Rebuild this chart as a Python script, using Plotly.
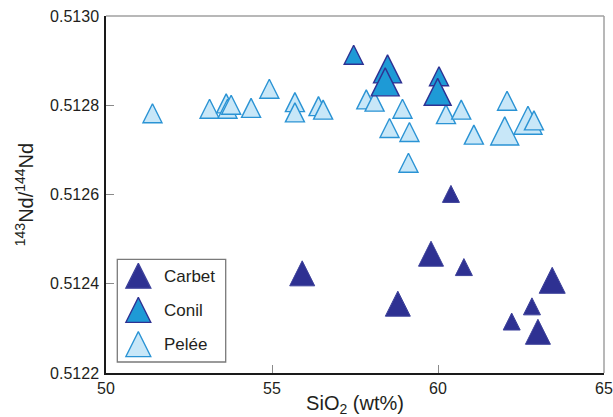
import plotly.graph_objects as go

# ---- data ----
series_names = ["Carbet", "Conil", "Pelée"]

sio2_carbet = [55.91, 59.79, 60.78, 58.79, 63.44, 62.83, 62.22, 63.01, 60.39]
nd_carbet = [0.512414, 0.512458, 0.512431, 0.512346, 0.512398, 0.512343, 0.512309, 0.512283, 0.512595]
size_carbet = [25, 25, 17, 25, 26, 17, 17, 25, 17]

sio2_conil = [57.46, 58.48, 58.41, 60.03, 59.99]
nd_conil = [0.512906, 0.512871, 0.512842, 0.512858, 0.512820]
size_conil = [19, 28, 28, 19, 27]

sio2_pelee = [51.40, 53.12, 53.62, 53.66, 53.77, 54.37, 54.92, 55.69, 55.69, 56.40,
              56.54, 57.84, 58.09, 58.93, 58.54, 59.14, 59.11, 60.24, 60.70, 62.08,
              61.08, 62.01, 62.71, 62.89]
nd_pelee = [0.512775, 0.512785, 0.512797, 0.512785, 0.512794, 0.512787, 0.512830, 0.512800,
            0.512777, 0.512791, 0.512783, 0.512806, 0.512801, 0.512785, 0.512742, 0.512733,
            0.512664, 0.512773, 0.512783, 0.512803, 0.512727, 0.512732, 0.512756, 0.512759]
size_pelee = [19, 19, 19, 19, 19, 19, 19, 19, 19, 19, 19, 19, 19, 19, 19, 19,
              19, 19, 19, 19, 19, 28, 28, 19]

x_ticks = [50, 55, 60, 65]
y_ticks = [0.5122, 0.5124, 0.5126, 0.5128, 0.5130]

# ---- styles ----
styles = {
    "Carbet": dict(fill="#2E3192", line="#3C409A", lw=1.0),
    "Conil": dict(fill="#1E9AD6", line="#2E3192", lw=1.4),
    "Pelée": dict(fill="#C8E7F8", line="#2A93D4", lw=1.4),
}
FONT = "Liberation Sans, Arial, Helvetica, sans-serif"
TXT = "#231F20"

data = {
    "Carbet": (sio2_carbet, nd_carbet, size_carbet),
    "Conil": (sio2_conil, nd_conil, size_conil),
    "Pelée": (sio2_pelee, nd_pelee, size_pelee),
}


def tri_marker(sizes, st):
    # upward triangle with equal width/height, centred on its centroid
    return dict(
        symbol="arrow-down",
        angle=180,
        size=sizes,
        standoff=[s * 2.0 / 3.0 for s in sizes],
        color=st["fill"],
        line=dict(color=st["line"], width=st["lw"]),
        opacity=1,
    )


fig = go.Figure()

# draw Pelée first (bottom), then Conil, then Carbet
for name in ["Pelée", "Conil", "Carbet"]:
    xs, ys, ss = data[name]
    fig.add_trace(go.Scatter(
        x=xs, y=ys, mode="markers", name=name, showlegend=False,
        marker=tri_marker(ss, styles[name]),
        xaxis="x", yaxis="y",
    ))

# ---- hand-built legend in an inset axis ----
n = len(series_names)
leg_size = 25
fig.add_trace(go.Scatter(
    x=[0.194] * n,
    y=[n - i - 0.6 for i in range(n)],
    mode="markers", showlegend=False, hoverinfo="skip",
    marker=dict(
        symbol="arrow-down", angle=180, size=leg_size, standoff=leg_size * 2.0 / 3.0,
        color=[styles[s]["fill"] for s in series_names],
        line=dict(color=[styles[s]["line"] for s in series_names], width=1.3),
    ),
    xaxis="x2", yaxis="y2",
))
for i, s in enumerate(series_names):
    fig.add_annotation(
        x=0.41, y=n - i - 0.5, xref="x2", yref="y2", text=s, showarrow=False,
        xanchor="left", yanchor="middle", font=dict(family=FONT, size=17, color=TXT),
    )

W, H = 613, 417
ML, MR, MT, MB = 106, 9, 16, 44
plot_w = W - ML - MR
plot_h = H - MT - MB
lx0, lx1 = (117.3 - ML) / plot_w, (225.7 - ML) / plot_w
ly0, ly1 = (H - MB - 362) / plot_h, (H - MB - 259.3) / plot_h

fig.add_shape(type="rect", xref="paper", yref="paper", x0=lx0, x1=lx1, y0=ly0, y1=ly1,
              line=dict(color="#7A7A7A", width=1.3), fillcolor="rgba(0,0,0,0)", layer="above")
# gray frame on top and right
fig.add_shape(type="line", xref="paper", yref="paper", x0=0, x1=1, y0=1, y1=1,
              line=dict(color="#A0A0A0", width=1.5), layer="above")
fig.add_shape(type="line", xref="paper", yref="paper", x0=1, x1=1, y0=0, y1=1,
              line=dict(color="#A0A0A0", width=1.5), layer="above")

fig.update_layout(
    width=W, height=H,
    margin=dict(l=ML, r=MR, t=MT, b=MB, autoexpand=False),
    paper_bgcolor="white", plot_bgcolor="white",
    font=dict(family=FONT, color=TXT, size=16),
    showlegend=False,
    xaxis=dict(
        range=[50, 65], tickvals=x_ticks, ticktext=[str(v) for v in x_ticks],
        ticks="inside", ticklen=8, tickwidth=1.3, tickcolor="#8A8A8A",
        showline=True, linecolor="#1A1A1A", linewidth=1.5,
        showgrid=False, zeroline=False, automargin=False, ticklabeloverflow="allow",
        tickfont=dict(family=FONT, size=16, color=TXT),
        title=dict(text="SiO<sub>2</sub> (wt%)", font=dict(family=FONT, size=20, color=TXT), standoff=10),
    ),
    yaxis=dict(
        range=[0.5122, 0.5130], tickvals=y_ticks, ticktext=[f"{v:.4f}" for v in y_ticks],
        ticks="inside", ticklen=8, tickwidth=1.3, tickcolor="#8A8A8A",
        showline=True, linecolor="#1A1A1A", linewidth=1.5,
        showgrid=False, zeroline=False, ticklabelstandoff=2, automargin=False,
        ticklabeloverflow="allow",
        tickfont=dict(family=FONT, size=16, color=TXT),
        title=dict(text="<sup>143</sup>Nd/<sup>144</sup>Nd", font=dict(family=FONT, size=20, color=TXT), standoff=11),
    ),
    xaxis2=dict(domain=[lx0, lx1], range=[0, 1], visible=False, anchor="y2", fixedrange=True),
    yaxis2=dict(domain=[ly0, ly1], range=[0, n], visible=False, anchor="x2", fixedrange=True),
)

# remove the browser's default 8px page margin so the figure fills the window
fig.write_html("out.html", config={"displayModeBar": False},
               post_script="document.body.style.margin='0px';")
